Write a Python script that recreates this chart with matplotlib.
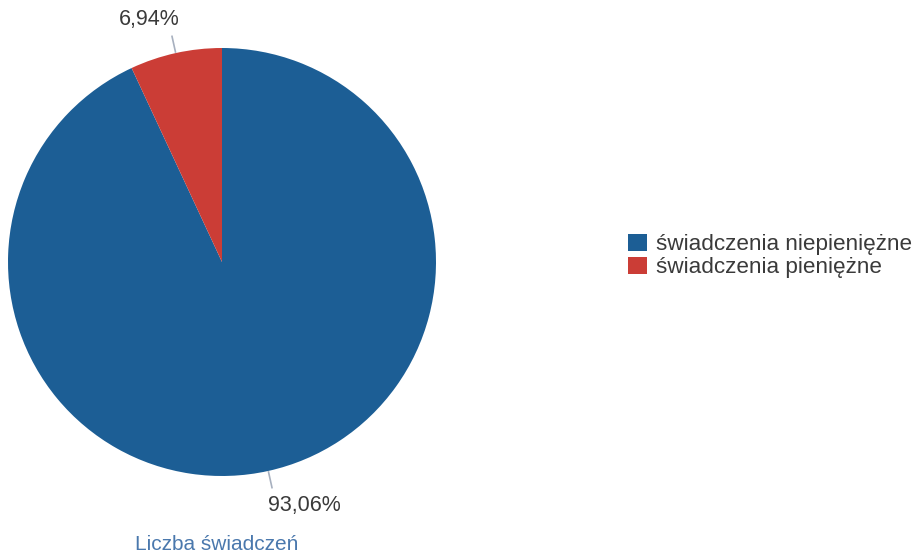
import matplotlib
matplotlib.use("Agg")
import matplotlib.pyplot as plt
import numpy as np

categories = ["świadczenia niepieniężne", "świadczenia pieniężne"]
values = [93.06, 6.94]
value_labels = ["93,06%", "6,94%"]
title = "Liczba świadczeń"
colors = ["#1c5e95", "#cb3d36"]

plt.rcParams['font.family'] = ['Liberation Sans', 'DejaVu Sans']

W, H = 920, 553
fig = plt.figure(figsize=(W / 100, H / 100), dpi=100)
fig.patch.set_facecolor("white")

cx, cy, r = 222, 262, 214
ax = fig.add_axes([(cx - r) / W, (H - cy - r) / H, 2 * r / W, 2 * r / H])
ax.axis("off")

wedges, _ = ax.pie(values, colors=colors, startangle=90, counterclock=False,
                   radius=1.0, center=(0, 0), wedgeprops=dict(linewidth=0))
ax.set_xlim(-1, 1)
ax.set_ylim(-1, 1)

# value labels with leader lines (label positions in pixels)
label_px = [(304, 506), (149, 20)]
start = 90.0
for i, (v, lab) in enumerate(zip(values, value_labels)):
    theta = start - v / 2 * 3.6
    start -= v * 3.6
    t = np.deg2rad(theta)
    x0, y0 = np.cos(t), np.sin(t)
    ax.plot([x0 * 1.005, x0 * 1.08], [y0 * 1.005, y0 * 1.08], color="#a7b0bf",
            lw=1.2, clip_on=False)
    px, py = label_px[i]
    fig.text(px / W, 1 - py / H, lab, ha="center", va="center", fontsize=15.5,
             color="#3a3a3a")

fig.text(217 / W, 1 - 545 / H, title, ha="center", va="center",
         fontsize=15, color="#4a78ad")

fig.legend(handles=wedges, labels=categories, loc="upper left",
           bbox_to_anchor=(612 / W, 1 - 218 / H), frameon=False,
           fontsize=16.2, handlelength=0.85, handleheight=0.82,
           handletextpad=0.4, labelspacing=0.07, borderpad=0.2,
           labelcolor="#3a3a3a")

fig.savefig("out.png", dpi=100)
